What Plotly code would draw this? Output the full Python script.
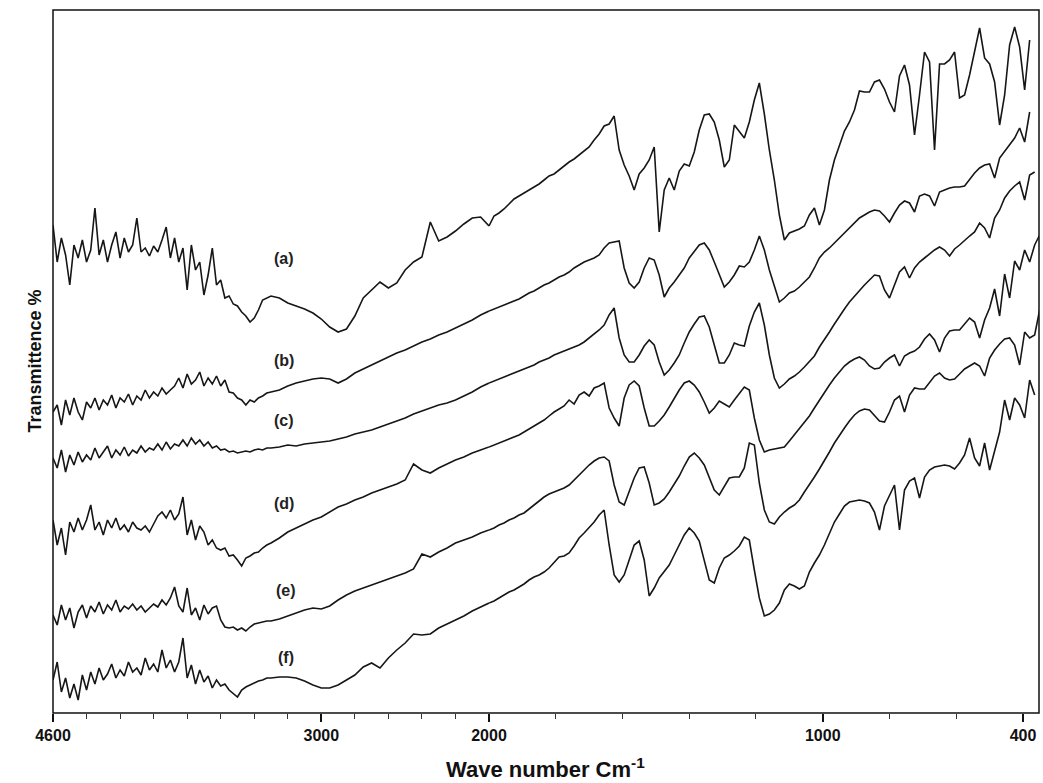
import plotly.graph_objects as go

# ---------------- data ----------------
# wavenumber grids (cm-1); the original chart uses a split scale at 2000 cm-1
wn_high = list(range(4600, 3300, -25)) + list(range(3300, 2000, -50))
wn_low = list(range(2000, 335, -15))

labels = ["(a)", "(b)", "(c)", "(d)", "(e)", "(f)"]
label_wn = [3224, 3224, 3224, 3224, 3210, 3210]
label_t = [455, 353, 293, 210, 123, 56]

# transmittance (offset, arbitrary units)
a_high = [488,451,475,458,428,468,455,473,451,463,505,458,473,451,468,481,455,475,461,468,
          495,461,465,457,467,461,473,486,455,475,451,465,423,468,443,451,418,438,465,428,
          433,415,417,409,407,401,397,391,395,403,413,415,
          417,415,410,407,404,400,394,386,381,384,397,415,423,431,425,430,443,451,456,491,
          472,476,482,489,495,496]
a_low = [487,497,500,504,509,514,517,520,523,526,
         529,533,537,539,543,547,551,554,558,562,
         566,573,579,587,589,597,563,548,537,523,
         539,545,553,566,481,523,535,523,542,549,
         547,561,583,598,599,591,573,546,553,588,
         582,575,591,613,630,599,563,533,498,473,
         480,482,484,487,498,505,488,503,533,553,
         568,582,591,603,622,621,621,631,633,624,
         611,601,637,648,628,578,618,661,651,563,
         649,649,653,661,615,618,638,661,685,655,
         649,631,588,618,668,686,666,623,673,None,None]

b_high = [301,308,288,313,298,315,301,293,311,305,315,303,313,308,318,305,315,311,319,308,
          317,313,323,315,321,317,325,319,323,327,335,325,339,329,333,341,327,335,329,337,
          327,333,321,320,315,313,308,313,311,315,317,320,
          321,323,327,330,332,334,335,334,330,334,340,344,348,352,356,360,363,367,371,374,
          378,381,385,389,393,398]
b_low = [402,404,406,408,410,412,414,417,420,422,
         425,428,430,433,436,438,441,445,448,451,
         453,455,458,465,470,471,472,445,430,425,
         431,445,455,453,438,416,425,431,438,445,
         455,462,468,470,463,451,438,426,431,438,
         447,446,451,463,477,463,443,426,411,415,
         420,422,426,431,436,445,455,461,465,470,
         475,480,485,490,495,498,501,503,502,497,
         491,500,508,512,510,501,517,519,517,507,
         521,523,525,526,526,527,534,540,545,548,
         549,535,555,562,569,575,585,571,601,None,None]

c_high = [255,245,263,241,258,248,261,251,258,253,265,255,261,267,255,263,258,266,257,263,
          260,267,261,265,263,269,263,271,264,269,267,273,267,275,269,273,267,271,265,267,
          263,264,261,262,260,261,262,261,263,264,263,265,
          265,266,268,267,269,270,271,272,274,276,279,281,283,286,289,292,295,299,302,305,
          308,310,313,317,321,326]
c_low = [330,332,334,336,338,340,342,344,346,348,
         351,353,355,358,360,362,364,366,368,371,
         375,379,383,388,398,405,375,358,351,351,
         358,367,373,368,351,338,343,350,358,370,
         381,389,396,397,386,368,350,350,358,370,
         368,367,387,401,410,388,358,335,325,329,
         334,337,341,346,351,357,366,373,381,389,
         397,404,411,417,423,428,433,438,437,423,
         415,428,441,446,435,445,451,455,459,463,
         466,463,457,464,468,473,477,481,490,485,
         475,495,503,515,522,527,531,513,538,541,None]

d_high = [193,168,185,158,191,181,195,183,193,208,183,191,178,193,185,195,183,188,181,191,
          185,183,187,181,189,197,201,195,203,193,199,216,178,193,173,187,181,168,173,165,
          163,165,157,158,153,147,155,157,160,161,165,168,
          170,175,181,185,189,193,196,201,206,209,213,216,220,223,226,229,233,249,243,240,
          245,249,253,256,260,263]
d_low = [266,268,270,272,274,276,278,281,284,287,
         290,293,297,301,304,307,313,309,318,321,
         317,325,327,330,305,295,287,315,328,332,
         327,305,287,287,292,298,306,315,323,330,
         332,328,321,311,300,305,312,309,306,313,
         319,326,323,295,273,261,263,264,265,266,
         272,278,285,291,297,305,313,321,328,335,
         341,347,351,354,356,353,347,344,345,351,
         355,358,347,357,360,362,366,374,379,373,
         361,375,382,383,383,389,395,391,375,393,
         405,424,397,439,415,452,443,463,451,468,478]

e_high = [98,88,108,93,105,85,101,108,95,107,101,111,99,108,103,113,101,107,104,109,
          103,107,101,105,109,106,113,108,115,126,107,101,125,98,105,93,108,99,105,107,
          93,86,85,86,83,85,82,86,89,90,91,92,
          92,94,97,100,103,105,104,107,113,118,122,125,128,131,134,137,140,144,159,156,
          161,165,170,173,176,180]
e_low = [183,185,188,190,193,195,198,200,204,208,
         212,216,219,221,223,225,228,233,239,244,
         248,252,255,256,252,228,211,208,221,235,
         245,246,230,208,210,214,221,229,237,247,
         256,260,255,248,235,223,218,227,235,236,
         236,245,270,268,230,203,191,189,196,201,
         205,208,213,221,228,236,244,252,261,270,
         278,285,292,298,302,304,303,298,292,291,
         301,313,317,301,318,325,324,324,330,337,
         340,335,333,334,339,344,347,350,347,337,
         355,363,369,374,375,368,348,381,375,378,403]

f_high = [33,51,21,35,15,29,13,38,23,41,29,45,33,39,49,35,43,37,51,41,
          45,38,55,43,49,41,63,45,53,41,51,75,35,48,29,43,31,37,25,33,
          27,29,23,19,16,23,26,28,30,32,33,35,
          35,36,36,35,32,28,25,25,28,33,38,46,50,45,55,63,70,79,78,79,
          85,89,93,97,102,106]
f_low = [110,112,115,118,121,123,126,129,133,136,
         138,141,145,151,156,157,160,167,175,180,
         185,191,198,203,168,138,131,138,153,168,
         172,153,117,125,135,141,148,158,168,178,
         185,180,172,153,133,130,145,155,158,162,
         167,176,173,143,115,97,99,103,110,123,
         129,127,124,127,141,150,158,168,180,191,
         199,207,211,212,213,212,210,201,183,207,
         217,228,183,223,232,235,215,236,243,246,
         247,248,247,244,250,258,275,255,247,270,
         243,261,281,313,293,315,308,295,333,318,None]

ticks_high = [4600, 3000]
ticks_low = [2000, 1000, 400]

series = [(a_high, a_low), (b_high, b_low), (c_high, c_low),
          (d_high, d_low), (e_high, e_low), (f_high, f_low)]

# ---------------- figure ----------------
LINE = "#161616"
FONT = "Liberation Sans, Arial, sans-serif"
split = 0.4422

fig = go.Figure()
for hi, lo in series:
    fig.add_trace(go.Scatter(x=wn_high + [wn_low[0]], y=hi + [lo[0]], mode="lines",
                             line=dict(color=LINE, width=1.6), xaxis="x", yaxis="y",
                             showlegend=False, hoverinfo="skip"))
    fig.add_trace(go.Scatter(x=wn_low, y=lo, mode="lines",
                             line=dict(color=LINE, width=1.6), xaxis="x2", yaxis="y",
                             showlegend=False, hoverinfo="skip"))

tickfont = dict(family=FONT, size=16, color="#111", weight="bold")
fig.update_layout(
    width=1043, height=783, autosize=False,
    margin=dict(l=53, r=4, t=10, b=70),
    paper_bgcolor="white", plot_bgcolor="white",
    xaxis=dict(domain=[0, split], range=[4600, 2000], anchor="y",
               tickmode="array", tickvals=ticks_high, ticktext=[str(t) for t in ticks_high],
               ticks="outside", ticklen=8, tickwidth=2, tickcolor="#111",
               minor=dict(tick0=2000, dtick=200, ticks="outside", ticklen=5, tickwidth=1, tickcolor="#333"),
               showgrid=False, zeroline=False, showline=False, tickfont=tickfont),
    xaxis2=dict(domain=[split, 1], range=[2000, 352], anchor="y",
                tickmode="array", tickvals=ticks_low, ticktext=[str(t) for t in ticks_low],
                ticks="outside", ticklen=8, tickwidth=2, tickcolor="#111",
                minor=dict(tick0=2000, dtick=200, ticks="outside", ticklen=5, tickwidth=1, tickcolor="#333"),
                showgrid=False, zeroline=False, showline=False, tickfont=tickfont),
    yaxis=dict(range=[0, 703], showticklabels=False, ticks="", showgrid=False,
               zeroline=False, showline=False),
)

fig.add_shape(type="rect", xref="paper", yref="paper", x0=0, x1=1, y0=0, y1=1,
              line=dict(color="#111", width=1.5))

for lab, xw, yt in zip(labels, label_wn, label_t):
    fig.add_annotation(x=xw, y=yt, xref="x", yref="y", text=lab, showarrow=False,
                       font=dict(family=FONT, size=16, color="#222", weight="bold"))

fig.add_annotation(x=0.499, y=-0.078, xref="paper", yref="paper", yanchor="middle",
                   text="Wave number Cm<sup>-1</sup>", showarrow=False,
                   font=dict(family=FONT, size=22, color="#111", weight="bold"))
fig.add_annotation(x=-0.0314, y=0.50, xref="paper", yref="paper", textangle=-90,
                   text="Transmittence %", showarrow=False,
                   font=dict(family=FONT, size=18, color="#111", weight="bold"))

fig.write_html("out.html")
